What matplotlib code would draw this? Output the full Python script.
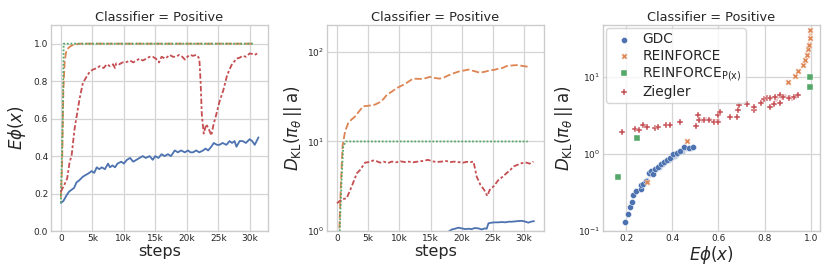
import matplotlib
matplotlib.use("Agg")
import matplotlib.pyplot as plt
import seaborn as sns
from matplotlib.ticker import FuncFormatter

# ---- panel 1: E phi(x) over training steps ----
gdc_steps = [0, 400, 900, 1300, 1700, 2100, 2500, 2900, 3500, 4000, 4500, 4900, 5300, 5700, 6100, 6500,
             7000, 7500, 7800, 8200, 8600, 9000, 9600, 10000, 10500, 11000, 11500, 12000, 12500, 13000,
             13500, 14100, 14600, 15000, 15500, 16000, 16500, 17000, 17500, 18100, 18600, 19100, 19700,
             20200, 20600, 21000, 21500, 22000, 22600, 23000, 23400, 23900, 24300, 24800, 25200, 25700,
             26300, 26800, 27200, 27600, 27900, 28400, 28900, 29400, 30000, 30400, 30800, 31100, 31400]
gdc_phi = [0.15, 0.16, 0.19, 0.21, 0.22, 0.23, 0.26, 0.27, 0.29, 0.30, 0.31, 0.32, 0.31, 0.34, 0.33, 0.34,
           0.33, 0.36, 0.34, 0.35, 0.34, 0.36, 0.37, 0.36, 0.38, 0.39, 0.37, 0.38, 0.39, 0.40,
           0.39, 0.40, 0.38, 0.40, 0.39, 0.41, 0.40, 0.41, 0.40, 0.43, 0.42, 0.43, 0.42,
           0.43, 0.42, 0.42, 0.43, 0.42, 0.43, 0.44, 0.43, 0.45, 0.47, 0.46, 0.46, 0.47,
           0.46, 0.48, 0.47, 0.48, 0.45, 0.48, 0.48, 0.47, 0.49, 0.48, 0.46, 0.48, 0.50]

rf_steps = [0, 200, 400, 600, 800, 1000, 1300, 1700, 2200, 3000, 4000, 30600]
rf_phi = [0.18, 0.35, 0.75, 0.90, 0.95, 0.97, 0.98, 0.99, 0.995, 1.0, 1.0, 1.0]

rfp_steps = [0, 300, 450, 30600]
rfp_phi = [0.15, 0.60, 1.0, 1.0]

zg_steps = [0, 600, 1000, 1400, 1700, 2200, 2600, 3000, 3500, 4200, 4600, 5000, 5700, 6200, 6800, 7300,
            7800, 8300, 8600, 8800, 9300, 9800, 10300, 11000, 11500, 12000, 12500, 13000, 13600, 14100,
            14600, 15100, 15600, 16000, 16600, 17300, 17800, 18300, 18800, 19300, 19700, 20100, 20500,
            21000, 21500, 21800, 22000, 22200, 22400, 22700, 23100, 23500, 23900, 24300, 24600, 25200,
            25800, 26400, 27100, 27900, 28400, 28900, 29400, 30000, 30400, 30800, 31300]
zg_phi = [0.21, 0.25, 0.28, 0.37, 0.40, 0.55, 0.63, 0.71, 0.79, 0.83, 0.85, 0.86, 0.87, 0.88, 0.87, 0.89,
          0.88, 0.89, 0.87, 0.895, 0.89, 0.90, 0.90, 0.91, 0.90, 0.91, 0.92, 0.91, 0.92, 0.93,
          0.93, 0.92, 0.90, 0.93, 0.92, 0.94, 0.93, 0.93, 0.94, 0.93, 0.915, 0.93, 0.94,
          0.935, 0.94, 0.93, 0.92, 0.80, 0.62, 0.52, 0.57, 0.545, 0.51, 0.575, 0.61, 0.69,
          0.75, 0.83, 0.885, 0.92, 0.925, 0.935, 0.93, 0.948, 0.945, 0.94, 0.95]

# ---- panel 2: KL over training steps ----
gdc_kl_steps = [0, 1000, 2000, 3000, 4000, 5000, 6000, 7000, 8000, 9000, 10000, 11000, 12000, 13000,
                14000, 15000, 16000, 17000, 17800, 18400, 18900, 19500, 20000, 20600, 21100, 21600,
                22100, 22700, 23200, 23700, 24000, 24300, 24800, 25400, 25900, 26500, 27000, 27500,
                28000, 28500, 29000, 29600, 30100, 30700, 31100, 31600]
gdc_kl = [0.02, 0.12, 0.18, 0.25, 0.3, 0.36, 0.42, 0.47, 0.52, 0.57, 0.62, 0.67, 0.72, 0.77,
          0.81, 0.85, 0.89, 0.93, 0.97, 1.04, 1.06, 1.09, 1.07, 1.05, 1.06, 1.05,
          1.08, 1.07, 1.04, 1.07, 1.06, 1.22, 1.24, 1.25, 1.25, 1.26, 1.25, 1.27,
          1.27, 1.28, 1.29, 1.30, 1.28, 1.24, 1.27, 1.29]

rf_kl_steps = [0, 300, 600, 900, 1300, 1800, 2300, 2900, 3500, 4200, 5000, 6100, 6900, 7500, 8000, 8800,
               9600, 10900, 12200, 13000, 13800, 14900, 15800, 16500, 17200, 17900, 18800, 19700, 20400,
               21100, 22000, 22900, 23700, 24500, 25200, 25900, 26500, 27200, 28000, 28800, 29600, 30600]
rf_kl = [0.05, 0.7, 3.0, 9.0, 13.0, 16.0, 17.5, 19.0, 21.5, 24.7, 25.0, 25.8, 27.5, 30.0, 33.3, 36.0,
         39.5, 43.8, 50.3, 50.0, 49.9, 52.6, 51.0, 50.3, 52.0, 54.8, 58.0, 60.9, 62.0,
         63.5, 61.0, 58.6, 60.0, 62.1, 63.0, 64.9, 66.0, 69.4, 70.5, 71.2, 70.0, 68.3]

rfp_kl_steps = [0, 300, 500, 750, 1000, 1400, 30600]
rfp_kl = [0.05, 0.5, 1.33, 4.0, 8.8, 10.0, 10.0]

zg_kl_steps = [0, 750, 1550, 2350, 3200, 3700, 4500, 5200, 5800, 6400, 6900, 7500, 8200, 8800, 9500,
               10200, 10900, 11500, 12200, 13000, 13700, 14600, 15300, 16000, 16800, 17500, 18200,
               18900, 19500, 20200, 20800, 21400, 21900, 22400, 23000, 23600, 24100, 24500, 25200,
               25900, 26500, 27200, 27800, 28300, 29000, 29600, 30400, 30900, 31500]
zg_kl = [2.04, 2.26, 2.32, 3.14, 4.43, 4.8, 5.8, 5.9, 6.13, 6.0, 5.8, 5.95, 5.75, 5.96, 5.85,
         6.0, 5.88, 5.95, 5.85, 5.96, 6.05, 6.23, 6.0, 5.9, 5.96, 6.05, 5.9,
         5.95, 5.88, 5.8, 5.92, 5.88, 5.96, 4.06, 3.28, 2.88, 2.47, 2.88, 3.2,
         3.72, 4.0, 4.43, 4.8, 5.25, 5.5, 5.72, 5.8, 5.65, 5.96]

# ---- panel 3: KL against E phi(x) ----
gdc_sc_phi = [0.196, 0.209, 0.216, 0.225, 0.232, 0.242, 0.263, 0.266, 0.275, 0.285, 0.30, 0.31, 0.318,
              0.325, 0.34, 0.352, 0.365, 0.376, 0.389, 0.405, 0.419, 0.433, 0.45, 0.472, 0.491]
gdc_sc_kl = [0.131, 0.166, 0.204, 0.24, 0.295, 0.336, 0.35, 0.40, 0.41, 0.45, 0.576, 0.6, 0.55,
             0.64, 0.68, 0.74, 0.78, 0.84, 0.90, 1.0, 1.03, 1.11, 1.25, 1.22, 1.24]
rf_sc_phi = [0.289, 0.465, 0.900, 0.931, 0.944, 0.965, 0.974, 0.983, 0.988, 0.993, 0.996, 0.998]
rf_sc_kl = [0.43, 1.49, 8.7, 10.5, 12.2, 14.3, 17.0, 19.6, 23.0, 26.5, 32.0, 41.6]
rfp_sc_phi = [0.167, 0.246, 0.998, 0.998]
rfp_sc_kl = [0.5, 1.62, 10.0, 7.5]
zg_sc_phi = [0.181, 0.238, 0.256, 0.275, 0.292, 0.325, 0.339, 0.371, 0.392, 0.434,
             0.503, 0.51, 0.517, 0.536, 0.561, 0.58, 0.597, 0.597, 0.606, 0.652,
             0.681, 0.686, 0.69, 0.725, 0.753, 0.753, 0.785, 0.797, 0.811, 0.823,
             0.825, 0.84, 0.847, 0.868, 0.868, 0.882, 0.905, 0.927, 0.945]
zg_sc_kl = [1.93, 2.11, 2.07, 2.36, 2.25, 2.2, 2.25, 2.36, 2.36, 2.6,
            2.33, 3.25, 2.75, 2.75, 2.8, 2.65, 2.65, 3.2, 3.55, 3.0,
            3.0, 3.7, 4.3, 4.47, 3.7, 4.05, 4.6, 5.2, 5.45, 4.05,
            5.35, 4.47, 5.6, 5.8, 4.6, 5.6, 5.45, 5.6, 5.9]

# faint, smaller points that sit among the main ones
gdc_faint_phi = [0.29, 0.305, 0.33, 0.345, 0.36, 0.37, 0.385, 0.395, 0.40, 0.41, 0.42, 0.43, 0.445, 0.46, 0.48]
gdc_faint_kl = [0.47, 0.53, 0.62, 0.66, 0.72, 0.76, 0.82, 0.86, 0.88, 0.93, 0.98, 1.02, 1.08, 1.18, 1.15]
rf_faint_phi = [0.985, 0.99, 0.992, 0.995, 0.997]
rf_faint_kl = [21.0, 24.5, 28.0, 35.0, 38.0]
zg_faint_phi = [0.52, 0.53, 0.545, 0.57, 0.59, 0.60, 0.79, 0.80, 0.83, 0.85, 0.86, 0.875, 0.89, 0.90, 0.91, 0.92, 0.935, 0.94]
zg_faint_kl = [2.9, 2.7, 2.85, 2.75, 2.7, 2.75, 4.9, 5.0, 5.3, 5.0, 5.5, 5.3, 5.7, 5.3, 5.6, 5.2, 5.5, 5.8]

labels = ["GDC", "REINFORCE", r"REINFORCE$_{\mathrm{P(x)}}$", "Ziegler"]

sns.set_style("whitegrid")
plt.rcParams["font.family"] = ["DejaVu Sans"]
pal = sns.color_palette("deep")
colors = [pal[0], pal[1], pal[2], pal[3]]
dashes = [(None, None), (4, 1.5), (1, 1), (3, 1.25, 1.5, 1.25)]
markers = ["o", "X", "s", "P"]

title = "Classifier = Positive"
kl_label = r"$D_{\mathrm{KL}}(\pi_\theta\,||\,\mathrm{a})$"
phi_label = r"$E\phi(x)$"
lw = 1.3

fig = plt.figure(figsize=(8.3, 2.77), dpi=100)
ax1 = fig.add_axes([0.0614, 0.166, 0.2614, 0.744])
ax2 = fig.add_axes([0.394, 0.166, 0.2614, 0.744])
ax3 = fig.add_axes([0.7265, 0.166, 0.2614, 0.744])

kfmt = FuncFormatter(lambda v, p: "0" if v == 0 else "%dk" % round(v / 1000))

# panel 1
series1 = [(gdc_steps, gdc_phi), (rf_steps, rf_phi), (rfp_steps, rfp_phi), (zg_steps, zg_phi)]
for i, (x, y) in enumerate(series1):
    line, = ax1.plot(x, y, color=colors[i], lw=lw)
    if i > 0:
        line.set_dashes(dashes[i])
ax1.set_xlim(-1570, 32900)
ax1.set_ylim(0, 1.1)
ax1.set_yticks([0.0, 0.2, 0.4, 0.6, 0.8, 1.0])
ax1.set_xticks([0, 5000, 10000, 15000, 20000, 25000, 30000])
ax1.xaxis.set_major_formatter(kfmt)
ax1.set_ylabel(phi_label, fontsize=12, labelpad=4)
ax1.set_xlabel("steps", fontsize=11.5, labelpad=1)

# panel 2
series2 = [(gdc_kl_steps, gdc_kl), (rf_kl_steps, rf_kl), (rfp_kl_steps, rfp_kl), (zg_kl_steps, zg_kl)]
for i, (x, y) in enumerate(series2):
    line, = ax2.plot(x, y, color=colors[i], lw=lw)
    if i > 0:
        line.set_dashes(dashes[i])
ax2.set_yscale("log")
ax2.set_xlim(-1600, 33200)
ax2.set_ylim(1, 200)
ax2.set_xticks([0, 5000, 10000, 15000, 20000, 25000, 30000])
ax2.xaxis.set_major_formatter(kfmt)
ax2.set_ylabel(kl_label, fontsize=12, labelpad=2)
ax2.set_xlabel("steps", fontsize=11.5, labelpad=1)

# panel 3
faint = [(gdc_faint_phi, gdc_faint_kl, 0), (rf_faint_phi, rf_faint_kl, 1), (zg_faint_phi, zg_faint_kl, 3)]
for x, y, i in faint:
    ax3.scatter(x, y, color=colors[i], marker=markers[i], s=9, edgecolors="white",
                linewidths=0.3, alpha=0.35, zorder=2)
series3 = [(gdc_sc_phi, gdc_sc_kl), (rf_sc_phi, rf_sc_kl), (rfp_sc_phi, rfp_sc_kl), (zg_sc_phi, zg_sc_kl)]
for i, (x, y) in enumerate(series3):
    ax3.scatter(x, y, color=colors[i], marker=markers[i], s=19, edgecolors="white",
                linewidths=0.3, label=labels[i], zorder=3)
ax3.set_yscale("log")
ax3.set_xlim(0.1, 1.04)
ax3.set_ylim(0.1, 48)
ax3.set_xticks([0.2, 0.4, 0.6, 0.8, 1.0])
ax3.set_ylabel(kl_label, fontsize=12, labelpad=2)
ax3.set_xlabel(phi_label, fontsize=12, labelpad=1)
leg = ax3.legend(loc="upper left", fontsize=9.9, frameon=True, borderpad=0.3,
                 labelspacing=0.15, handletextpad=0.3, borderaxespad=0.25, markerscale=1.0)
leg.get_frame().set_edgecolor("0.8")

for ax in (ax1, ax2, ax3):
    ax.set_title(title, fontsize=9.3, pad=3, color="0.15")
    ax.tick_params(axis="both", labelsize=6.5, pad=2, length=0)
    ax.grid(True, which="major", color="0.83", lw=0.9)
    ax.grid(False, which="minor")
    for s in ax.spines.values():
        s.set_color("0.8")
        s.set_linewidth(1.0)

fig.savefig("out.png", dpi=100)
